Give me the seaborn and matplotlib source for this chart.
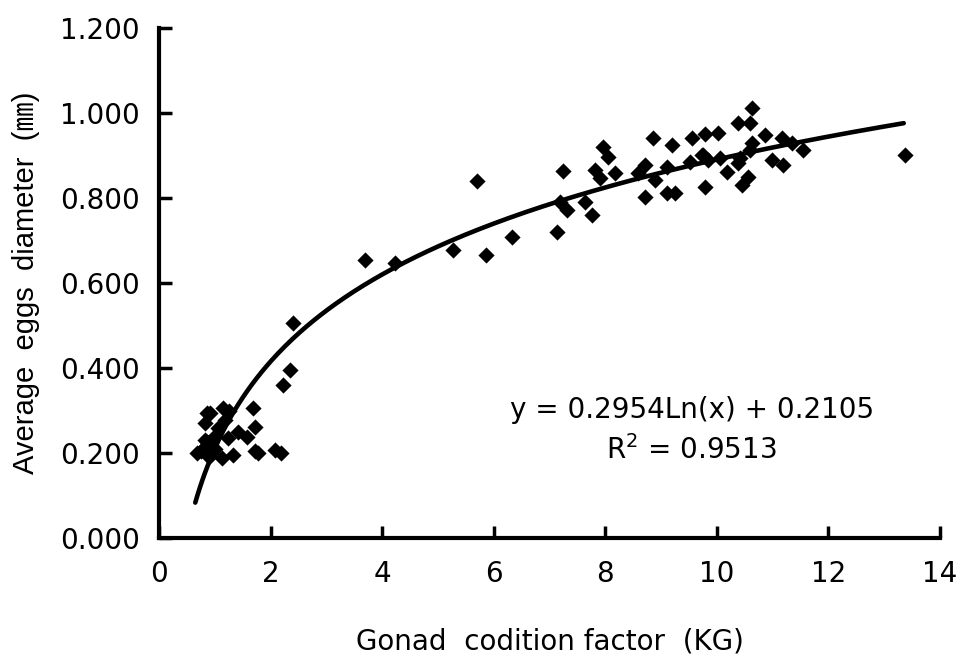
import numpy as np
import pandas as pd
import matplotlib
matplotlib.use("Agg")
import matplotlib.pyplot as plt
import seaborn as sns

# ---- data ----
kg = [0.68, 0.75, 0.82, 0.86, 0.88, 0.95, 0.82, 0.86, 0.91, 0.82, 1.06, 1.15, 1.18,
      1.24, 1.13, 1.33, 1.42, 1.58, 1.69, 1.72, 1.72, 1.78, 2.08, 2.18, 2.22, 2.35,
      2.40, 1.00, 0.90, 1.25, 1.00,
      3.69, 4.23, 5.27, 5.70, 5.86, 6.33, 7.13, 7.19, 7.24, 7.31, 7.63, 7.76, 7.81,
      7.90, 7.96, 8.05, 8.17, 8.58, 8.71, 8.71, 8.85, 8.89, 9.10, 9.10, 9.19, 9.25,
      9.55, 9.52, 9.73, 9.84,
      10.63, 10.38, 10.59, 9.78, 10.02, 10.86, 11.16, 11.34, 10.63, 11.54, 10.59,
      9.75, 10.05, 10.41, 10.99, 11.18, 10.38, 10.18, 10.56, 10.45, 9.78, 13.37]
diam = [0.200, 0.205, 0.215, 0.226, 0.219, 0.202, 0.270, 0.294, 0.294, 0.231, 0.259,
        0.306, 0.278, 0.235, 0.188, 0.195, 0.250, 0.238, 0.306, 0.261, 0.205, 0.200,
        0.207, 0.200, 0.360, 0.395, 0.506, 0.210, 0.190, 0.300, 0.240,
        0.654, 0.647, 0.678, 0.840, 0.666, 0.708, 0.720, 0.791, 0.864, 0.772, 0.791,
        0.760, 0.866, 0.847, 0.920, 0.896, 0.859, 0.859, 0.878, 0.802, 0.941, 0.842,
        0.873, 0.811, 0.925, 0.811, 0.941, 0.885, 0.901, 0.889,
        1.012, 0.976, 0.976, 0.950, 0.953, 0.948, 0.941, 0.929, 0.929, 0.913, 0.913,
        0.901, 0.894, 0.894, 0.889, 0.878, 0.882, 0.861, 0.849, 0.831, 0.826, 0.901]

coef_a = 0.2954
coef_b = 0.2105
r2 = 0.9513
fit_xmin, fit_xmax = 0.65, 13.35

x_ticks = [0, 2, 4, 6, 8, 10, 12, 14]
y_ticks = [0.0, 0.2, 0.4, 0.6, 0.8, 1.0, 1.2]

df = pd.DataFrame({"KG": kg, "diam": diam})
fx = np.linspace(fit_xmin, fit_xmax, 300)
fit = pd.DataFrame({"KG": fx, "diam": coef_a * np.log(fx) + coef_b})

sns.set_style("white", {"xtick.bottom": True, "ytick.left": True,
                        "xtick.direction": "in", "ytick.direction": "in",
                        "text.color": "black", "axes.labelcolor": "black",
                        "xtick.color": "black", "ytick.color": "black"})
plt.rcParams['font.family'] = ['DejaVu Sans', 'Noto Sans CJK JP']
plt.rcParams['xtick.direction'] = 'in'
plt.rcParams['ytick.direction'] = 'in'

fig = plt.figure(figsize=(9.58, 6.55), dpi=100)
ax = fig.add_axes([159/958, 1-538/655, (940-159)/958, (538-28)/655])

sns.scatterplot(data=df, x="KG", y="diam", marker="D", s=68, color="black",
                edgecolor="black", linewidth=0, ax=ax, zorder=3)
sns.lineplot(data=fit, x="KG", y="diam", color="black", linewidth=3.3, ax=ax, zorder=4)

ax.set_xlim(0, 14)
ax.set_ylim(0, 1.2)
ax.set_xticks(x_ticks)
ax.set_yticks(y_ticks)
ax.set_xticklabels([str(t) for t in x_ticks], fontsize=20)
ax.set_yticklabels([f"{t:.3f}" for t in y_ticks], fontsize=20)
ax.tick_params(axis="both", which="major", direction="in", length=9, width=2.5,
               color="black", labelcolor="black")
ax.tick_params(axis="x", pad=16)
ax.tick_params(axis="y", pad=14)

for s in ["top", "right"]:
    ax.spines[s].set_visible(False)
for s in ["left", "bottom"]:
    ax.spines[s].set_linewidth(3)
    ax.spines[s].set_color("black")

ax.set_xlabel("Gonad  codition factor  (KG)", fontsize=20, labelpad=28, color="black")
ax.set_ylabel("Average  eggs  diameter  (㎜)", fontsize=21, labelpad=14, color="black",
              family=['Liberation Sans', 'Noto Sans CJK JP'])

ax.text(9.55, 0.301, f"y = {coef_a}Ln(x) + {coef_b}", fontsize=20,
        ha="center", va="center", color="black")
ax.text(9.55, 0.207, f"R$^2$ = {r2}", fontsize=20, ha="center", va="center",
        color="black")

fig.savefig("out.png", dpi=100)
